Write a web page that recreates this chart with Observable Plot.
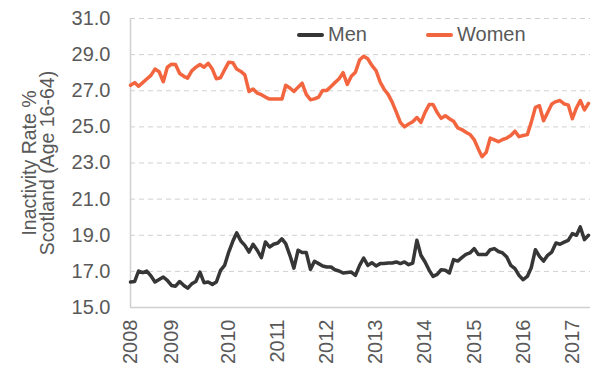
<!DOCTYPE html>
<html>
<head>
<meta charset="utf-8">
<script src="https://cdn.jsdelivr.net/npm/d3@7"></script>
<script src="https://cdn.jsdelivr.net/npm/@observablehq/plot@0.6"></script>
<style>
  html, body { margin: 0; padding: 0; background: #fff; }
  #wrap { position: relative; width: 597px; height: 374px; font-family: "Liberation Sans", Arial, sans-serif; }
  .leg { position: absolute; top: 23px; display: flex; align-items: center; font-size: 20px; color: #595959; }
  .leg span.sw { display: inline-block; width: 27px; height: 4px; margin-right: 4px; border-radius: 2px; }
</style>
</head>
<body>
<div id="wrap"></div>
<script>
// Categories: rolling monthly periods from Jan 2008 to May 2017
const startMonth = "2008-01";
const endMonth = "2017-05";
const seriesNames = ["Men", "Women"];
const yearLabels = ["2008","2009","2010","2011","2012","2013","2014","2015","2016","2017"];
// category at which each year label sits in the original chart
const yearLabelMonths = ["2008-01","2008-11","2010-01","2011-01","2012-01","2013-01","2014-01","2015-01","2016-01","2017-01"];
const yTicks = [15, 17, 19, 21, 23, 25, 27, 29, 31];

const men = [
16.41,16.44,17.02,16.93,17.02,16.75,16.41,16.55,16.69,16.5,16.22,16.18,
16.44,16.22,16.07,16.31,16.44,16.96,16.37,16.41,16.28,16.41,17.06,17.33,
18.07,18.68,19.13,18.68,18.44,18.07,18.5,18.17,17.76,18.63,18.35,18.5,
18.57,18.8,18.54,17.89,17.18,18.17,18.04,18.04,17.11,17.56,17.43,17.3,
17.24,17.24,17.09,17.02,16.91,16.94,16.96,16.78,17.33,17.74,17.33,17.48,
17.3,17.43,17.43,17.46,17.46,17.52,17.43,17.52,17.37,17.46,18.72,17.89,
17.52,17.06,16.72,16.83,17.09,17.06,16.91,17.65,17.57,17.76,17.94,18.02,
18.26,17.93,17.93,17.93,18.2,18.26,18.1,18.02,17.8,17.33,17.15,16.78,
16.54,16.72,17.2,18.2,17.83,17.57,17.89,18.07,18.57,18.5,18.62,18.72,
19.09,19.0,19.46,18.76,19.0
];
const women = [
27.3,27.45,27.25,27.45,27.65,27.85,28.2,28.05,27.5,28.3,28.47,28.45,
27.95,27.8,27.7,28.1,28.3,28.45,28.3,28.52,28.2,27.66,27.72,28.16,
28.58,28.55,28.2,28.07,27.88,26.96,27.1,26.87,26.78,26.65,26.54,26.54,
26.54,26.54,27.3,27.15,26.96,27.2,27.42,26.8,26.5,26.55,26.65,27.02,
27.02,27.24,27.45,27.66,28.0,27.35,27.8,28.03,28.71,28.91,28.77,28.4,
28.12,27.48,27.1,26.8,26.37,25.82,25.25,25.0,25.16,25.28,25.52,25.25,
25.8,26.24,26.24,25.8,25.47,25.62,25.45,25.31,24.95,24.85,24.7,24.58,
24.3,23.78,23.35,23.59,24.38,24.28,24.18,24.3,24.38,24.52,24.76,24.46,
24.52,24.57,25.25,26.08,26.17,25.34,25.8,26.27,26.4,26.46,26.27,26.22,
25.45,26.06,26.46,25.94,26.3
];

const colors = {Men: "#363636", Women: "#F3653F"};
const parseM = d3.utcParse("%Y-%m");
const months = d3.utcMonths(parseM(startMonth), d3.utcMonth.offset(parseM(endMonth), 1));
const rows = [];
months.forEach((d, i) => {
  rows.push({date: d, series: "Men", value: men[i]});
  rows.push({date: d, series: "Women", value: women[i]});
});
const labelDates = yearLabelMonths.map(parseM);
const labelByTime = new Map(labelDates.map((d, i) => [+d, yearLabels[i]]));
const xEnd = d3.utcDay.offset(parseM(endMonth), 15);

const chart = Plot.plot({
  width: 597,
  height: 374,
  marginLeft: 130,
  marginRight: 7,
  marginTop: 18,
  marginBottom: 67,
  style: {fontFamily: "Liberation Sans, Arial, sans-serif", fontSize: "20px", color: "#595959", background: "#fff"},
  x: {type: "utc", domain: [months[0], xEnd]},
  y: {domain: [15, 31]},
  marks: [
    Plot.gridY(yTicks, {stroke: "#d0d0d0", strokeOpacity: 1, strokeDasharray: "5,4", strokeWidth: 1}),
    Plot.ruleY([15], {stroke: "#d0d0d0", strokeWidth: 1.5}),
    Plot.ruleX([months[0]], {stroke: "#d0d0d0", strokeWidth: 1.5}),
    Plot.axisY(yTicks, {tickSize: 0, tickPadding: 20, tickFormat: d3.format(".1f"), label: null, fontSize: 20, fill: "#595959"}),
    Plot.axisX(labelDates, {tickSize: 0, tickPadding: 12, tickRotate: -90, tickFormat: d => labelByTime.get(+d), label: null, fontSize: 20, fill: "#595959"}),
    Plot.text(["Inactivity Rate %\nScotland (Age 16-64)"], {frameAnchor: "left", textAnchor: "middle", rotate: -90, dx: -91, fontSize: 19.5, lineHeight: 0.9, fill: "#595959"}),
    Plot.line(rows, {x: "date", y: "value", z: "series", stroke: d => colors[d.series], strokeWidth: 3.5, strokeLinejoin: "round", strokeLinecap: "round"})
  ]
});
const wrap = document.getElementById("wrap");
wrap.appendChild(chart);
const legendPos = {Men: 297, Women: 426};
for (const s of seriesNames) {
  const el = document.createElement("div");
  el.className = "leg";
  el.style.left = legendPos[s] + "px";
  el.innerHTML = `<span class="sw" style="background:${colors[s]}"></span><span>${s}</span>`;
  wrap.appendChild(el);
}
</script>
</body>
</html>
